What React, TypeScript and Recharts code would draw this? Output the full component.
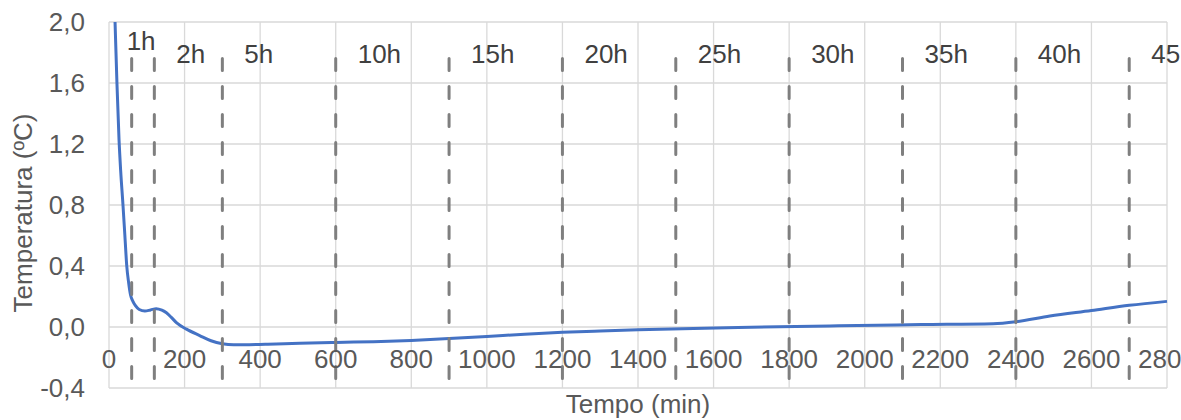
import { LineChart, Line, XAxis, YAxis, CartesianGrid, ReferenceLine } from 'recharts';

// cooling curve
const timeMin = [
  0, 10, 16, 21, 26.5, 31, 37, 42, 47, 52, 57, 63, 70, 80, 95, 110, 125, 140, 152, 165, 180,
  205, 240, 270, 300, 330, 420, 505, 600, 700, 800, 900, 1000, 1100, 1200, 1300, 1400, 1665,
  1930, 2150, 2340, 2400, 2490, 2600, 2700, 2800,
];
const tempC = [
  3.6, 2.5, 2.0, 1.6, 1.23, 1.02, 0.8, 0.6, 0.4, 0.29, 0.21, 0.17, 0.14, 0.115, 0.105, 0.112,
  0.12, 0.11, 0.093, 0.063, 0.025, -0.014, -0.056, -0.09, -0.11, -0.117, -0.113, -0.106, -0.101,
  -0.096, -0.088, -0.076, -0.062, -0.047, -0.035, -0.026, -0.018, -0.003, 0.008, 0.016, 0.022,
  0.035, 0.072, 0.108, 0.142, 0.168,
];

const markTimes = [60, 120, 300, 600, 900, 1200, 1500, 1800, 2100, 2400, 2700];
const markLabels = ['1h', '2h', '5h', '10h', '15h', '20h', '25h', '30h', '35h', '40h', '45h'];
const markSpan = [-0.36, 1.76];

const xTicks = [0, 200, 400, 600, 800, 1000, 1200, 1400, 1600, 1800, 2000, 2200, 2400, 2600, 2800];
const yTicks = [-0.4, 0, 0.4, 0.8, 1.2, 1.6, 2.0];

const data = timeMin.map((t, i) => ({ t, temp: tempC[i] }));

const CHART_W = 1240;
const CHART_H = 420;
const MARGIN = { top: 22, right: 73, bottom: 0, left: 0 };
const Y_AXIS_W = 109;
const X_AXIS_H = 32;
const Y_MIN = -0.4;
const Y_MAX = 2.0;
const FONT = "'Liberation Sans', Arial, sans-serif";
const AXIS_TEXT = '#595959';

const plotTop = MARGIN.top;
const plotH = CHART_H - MARGIN.top - MARGIN.bottom - X_AXIS_H;
const zeroY = plotTop + (plotH * Y_MAX) / (Y_MAX - Y_MIN);
const plotCenterX = (Y_AXIS_W + CHART_W - MARGIN.right) / 2;
const plotCenterY = plotTop + plotH / 2;

const comma = (v: number) => v.toFixed(1).replace('.', ',');

const XTick = (props: any) => (
  <text
    x={props.x}
    y={zeroY + 41}
    textAnchor="middle"
    fill={AXIS_TEXT}
    fontSize={26}
    fontFamily={FONT}
  >
    {props.payload.value}
  </text>
);

const markShape = (label: string) => (p: any) => {
  const off = label === '1h' ? { dx: -5, dy: -9 } : { dx: 22, dy: 4 };
  return (
    <g>
      <line
        x1={p.x1}
        y1={p.y1}
        x2={p.x2}
        y2={p.y2}
        stroke="#7f7f7f"
        strokeWidth={3}
        strokeDasharray="12 16"
        strokeLinecap="round"
      />
      <text
        x={p.x1 + off.dx}
        y={Math.min(p.y1, p.y2) + off.dy}
        fill="#404040"
        fontSize={26}
        fontFamily={FONT}
      >
        {label}
      </text>
    </g>
  );
};

export default function App() {
  return (
    <div
      style={{
        position: 'absolute',
        left: 0,
        top: 0,
        width: 1181,
        height: 420,
        overflow: 'hidden',
        background: '#fff',
      }}
    >
      <LineChart width={CHART_W} height={CHART_H} data={data} margin={MARGIN}>
        <CartesianGrid stroke="#d9d9d9" strokeWidth={1.3} />
        <XAxis
          dataKey="t"
          type="number"
          domain={[0, 2800]}
          ticks={xTicks}
          interval={0}
          axisLine={false}
          tickLine={false}
          height={X_AXIS_H}
          tick={XTick}
          label={() => (
            <text
              x={plotCenterX}
              y={413}
              textAnchor="middle"
              fill={AXIS_TEXT}
              fontSize={26}
              fontFamily={FONT}
            >
              Tempo (min)
            </text>
          )}
        />
        <YAxis
          type="number"
          domain={[Y_MIN, Y_MAX]}
          ticks={yTicks}
          allowDataOverflow
          axisLine={false}
          tickLine={false}
          tickSize={0}
          tickMargin={24}
          width={Y_AXIS_W}
          tickFormatter={comma}
          tick={{ fill: AXIS_TEXT, fontSize: 26, fontFamily: FONT }}
          label={() => (
            <text
              x={32}
              y={plotCenterY + 8}
              transform={`rotate(-90, 32, ${plotCenterY + 8})`}
              textAnchor="middle"
              fill={AXIS_TEXT}
              fontSize={26}
              fontFamily={FONT}
            >
              Temperatura (ºC)
            </text>
          )}
        />
        <Line
          type="monotone"
          dataKey="temp"
          stroke="#4472c4"
          strokeWidth={3}
          dot={false}
          activeDot={false}
          isAnimationActive={false}
        />
        {markTimes.map((t, i) => (
          <ReferenceLine
            key={t}
            segment={[
              { x: t, y: markSpan[1] },
              { x: t, y: markSpan[0] },
            ]}
            shape={markShape(markLabels[i])}
          />
        ))}
      </LineChart>
    </div>
  );
}
